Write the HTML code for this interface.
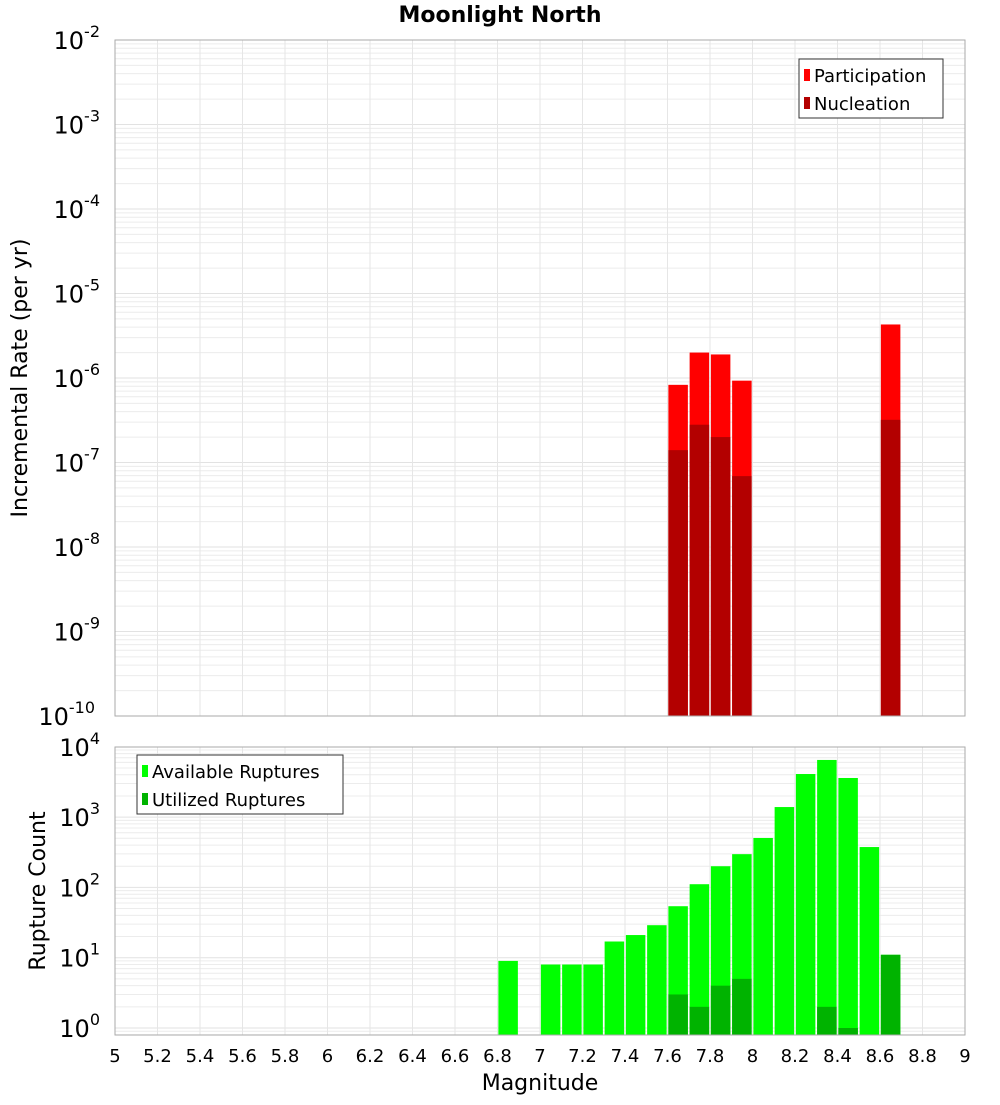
<!DOCTYPE html>
<html><head><meta charset="utf-8"><style>
body{margin:0;background:#fff;}
svg text{font-family:"DejaVu Sans","Liberation Sans",sans-serif;}
</style></head><body>
<svg id="c" width="1000" height="1100" xmlns="http://www.w3.org/2000/svg">
<text x="500" y="22" text-anchor="middle" font-size="22" font-weight="bold">Moonlight North</text>
<g id="top"></g><g id="bot"></g>
</svg>
<script>
const mags=[6.85,7.05,7.15,7.25,7.35,7.45,7.55,7.65,7.75,7.85,7.95,8.05,8.15,8.25,8.35,8.45,8.55,8.65];
const available=[9,8,8,8,17,21,29,54,111,200,297,505,1390,4100,6500,3600,375,11];
const utilizedMags=[7.65,7.75,7.85,7.95,8.35,8.45,8.65];
const utilized=[3,2,4,5,2,1,11];
const rateMags=[7.65,7.75,7.85,7.95,8.65];
const participation=[8.3e-7,2.0e-6,1.9e-6,9.3e-7,4.3e-6];
const nucleation=[1.4e-7,2.8e-7,2.0e-7,6.9e-8,3.2e-7];
const xTicks=[5,5.2,5.4,5.6,5.8,6,6.2,6.4,6.6,6.8,7,7.2,7.4,7.6,7.8,8,8.2,8.4,8.6,8.8,9];
const topExp=[-2,-3,-4,-5,-6,-7,-8,-9,-10];
const botExp=[0,1,2,3,4];

const NS="http://www.w3.org/2000/svg";
const svg=document.getElementById('c');
function el(t,a,p){const e=document.createElementNS(NS,t);for(const k in a)e.setAttribute(k,a[k]);(p||svg).appendChild(e);return e;}
const X0=115,X1=965;
const xs=m=>X0+(m-5)/4*(X1-X0);
const yTop=v=>40+(-2-Math.log10(v))*84.5;
const yBot=v=>1028-Math.log10(v)*70.3;
const TB=716,BT=747,BB=1035;

function grid(y0,y1,yf,lo,hi){
  for(let e=lo;e<=hi;e++)for(let k=1;k<10;k++){const y=yf(k*Math.pow(10,e));if(y<y0-0.5||y>y1+0.5)continue;
    const l=el('line',{x1:X0,x2:X1,y1:y,y2:y,stroke:k==1?'#e2e2e2':'#ececec','stroke-width':1});
    }
  xTicks.forEach(t=>{const l=el('line',{x1:xs(t),x2:xs(t),y1:y0,y2:y1,stroke:'#e6e6e6'});
    });
}
grid(40,TB,yTop,-10,-3);
grid(BT,BB,yBot,-1,3);

const bw=19.5;
function bar(m,v,yf,base,fill,name){const y=yf(v);const r=el('rect',{x:xs(m)-bw/2,y:y,width:bw,height:base-y,fill:fill});
  }
rateMags.forEach((m,i)=>bar(m,participation[i],yTop,TB,'#ff0000','participation-bar'));
rateMags.forEach((m,i)=>bar(m,nucleation[i],yTop,TB,'#b30000','nucleation-bar'));
mags.forEach((m,i)=>bar(m,available[i],yBot,BB,'#00ff00','available-bar'));
utilizedMags.forEach((m,i)=>bar(m,utilized[i],yBot,BB,'#00b300','utilized-bar'));

el('rect',{x:X0,y:40,width:X1-X0,height:TB-40,fill:'none',stroke:'#aaa'});
el('rect',{x:X0,y:BT,width:X1-X0,height:BB-BT,fill:'none',stroke:'#aaa'});

function expLabel(x,y,e,name){const t=el('text',{x:x,y:y,'text-anchor':'end','font-size':24});
  
  t.textContent='10';const s=el('tspan',{dy:-12,'font-size':16},t);s.textContent=String(e);}
topExp.forEach(e=>expLabel(e==-10?95:100,yTop(Math.pow(10,e))+9,e,'y-tick-label'));
botExp.forEach(e=>expLabel(100,yBot(Math.pow(10,e))+9,e,'y2-tick-label'));
xTicks.forEach(t=>{const l=el('text',{x:xs(t),y:1062,'text-anchor':'middle','font-size':18});
  l.textContent=String(t);});

let t=el('text',{x:0,y:0,transform:'translate(27,378) rotate(-90)','text-anchor':'middle','font-size':22});t.textContent='Incremental Rate (per yr)';

t=el('text',{x:0,y:0,transform:'translate(45,891) rotate(-90)','text-anchor':'middle','font-size':22});t.textContent='Rupture Count';

t=el('text',{x:540,y:1090,'text-anchor':'middle','font-size':22});t.textContent='Magnitude';


function legend(x,y,w,items,name){const g=el('g',{});
  el('rect',{x:x,y:y,width:w,height:59,fill:'#fff',stroke:'#333'},g);
  items.forEach((it,i)=>{el('rect',{x:x+5,y:y+10+i*28,width:6,height:12,fill:it[1]},g);
    const tx=el('text',{x:x+15,y:y+23+i*28,'font-size':18},g);tx.textContent=it[0];});}
legend(799,59,144,[['Participation','#ff0000'],['Nucleation','#b30000']],'top-legend');
legend(137,755,206,[['Available Ruptures','#00ff00'],['Utilized Ruptures','#00b300']],'bottom-legend');
</script>
</body></html>
